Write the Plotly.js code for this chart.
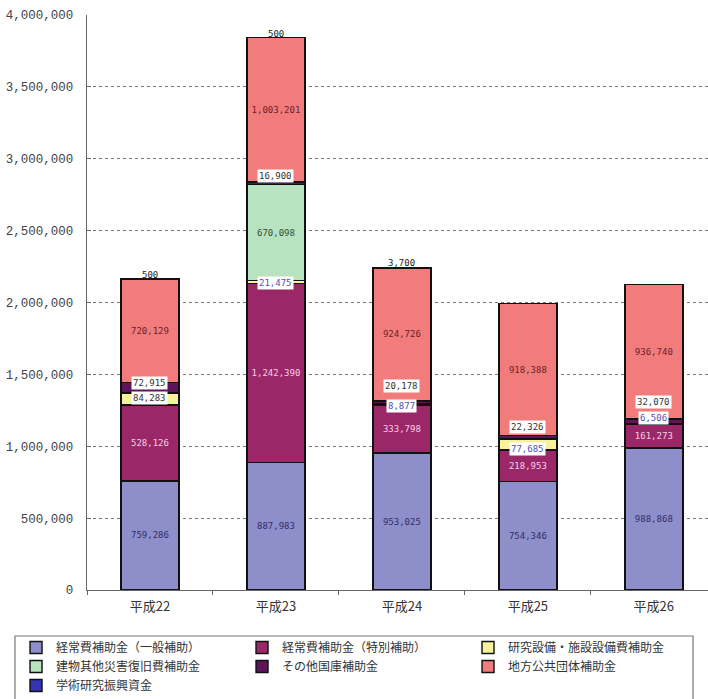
<!DOCTYPE html>
<html><head><meta charset="utf-8">
<script src="https://cdn.plot.ly/plotly-3.0.1.min.js"></script>
<style>html,body{margin:0;padding:0;background:#fff}</style>
</head><body><div id="chart" style="width:708px;height:699px"></div>
<script>
// ---- data ----
const years = ['平成22', '平成23', '平成24', '平成25', '平成26'];
const seriesNames = [
  '経常費補助金（一般補助）', '経常費補助金（特別補助）', '研究設備・施設設備費補助金',
  '建物其他災害復旧費補助金', 'その他国庫補助金', '地方公共団体補助金', '学術研究振興資金'
];
const generalSubsidy   = [759286, 887983, 953025, 754346, 988868];
const specialSubsidy   = [528126, 1242390, 333798, 218953, 161273];
const equipmentSubsidy = [84283, 21475, 8877, 77685, 6506];
const disasterSubsidy  = [null, 670098, null, null, null];
const otherNational    = [72915, 16900, 20178, 22326, 32070];
const localGovernment  = [720129, 1003201, 924726, 918388, 936740];
const academicFund     = [500, 500, 3700, null, null];

// ---- styles ----
const colors = ['#8e8ecb', '#9a2868', '#f7f29b', '#b8e3c0', '#5e1458', '#f27b7b', '#3434b4'];
const textColors = ['#2e2e66', '#f6d0e6', '#333333', '#2f4f3a', '#ffffff', '#6a1f2c', '#222222'];
const showInside = [true, true, false, true, false, true, false];
const eqLabelShift = [1, -1, -2, -4, 6];
const otLabelShift = [5, 7, 16, 10, 19];
const eqLabelColor = ['#333333', '#5050b4', '#5050b4', '#5050b4', '#5050b4'];
const NUMFONT = 'DejaVu Sans Mono, monospace';
const CJK = 'Noto Sans CJK JP, sans-serif';

const values = [generalSubsidy, specialSubsidy, equipmentSubsidy, disasterSubsidy,
                otherNational, localGovernment, academicFund];

const traces = values.map((v, k) => ({
  type: 'bar',
  name: seriesNames[k],
  x: years,
  y: v,
  marker: {color: colors[k], line: {color: '#111', width: 1.4}},
  texttemplate: showInside[k] ? '%{y:,}' : '',
  textposition: showInside[k] ? 'inside' : 'none',
  insidetextanchor: 'middle',
  textangle: 0,
  constraintext: 'none',
  textfont: {family: NUMFONT, size: 9, color: textColors[k]},
  hoverinfo: 'skip'
}));

// annotations for thin segments, computed from the data
const annotations = [];
years.forEach((yr, i) => {
  const base = generalSubsidy[i] + specialSubsidy[i];
  const eqMid = base + equipmentSubsidy[i] / 2;
  const otBase = base + equipmentSubsidy[i] + (disasterSubsidy[i] || 0);
  const otMid = otBase + otherNational[i] / 2;
  const total = otBase + otherNational[i] + localGovernment[i] + (academicFund[i] || 0);
  const fmt = n => n.toLocaleString('en-US');
  annotations.push({x: yr, y: eqMid, yshift: eqLabelShift[i], text: fmt(equipmentSubsidy[i]),
    showarrow: false, bgcolor: '#ffffff', borderpad: 1,
    font: {family: NUMFONT, size: 9, color: eqLabelColor[i]}});
  annotations.push({x: yr, y: otMid, yshift: otLabelShift[i], text: fmt(otherNational[i]),
    showarrow: false, bgcolor: '#ffffff', borderpad: 1,
    font: {family: NUMFONT, size: 9, color: '#333333'}});
  if (academicFund[i]) {
    annotations.push({x: yr, y: total, yanchor: 'bottom', yshift: -3, text: fmt(academicFund[i]),
      showarrow: false, font: {family: NUMFONT, size: 9, color: '#222222'}});
  }
});

const layout = {
  width: 708, height: 699,
  margin: {l: 87, r: 0, t: 15, b: 109, autoexpand: false},
  paper_bgcolor: '#ffffff', plot_bgcolor: '#ffffff',
  barmode: 'stack',
  bargap: 0.54,
  showlegend: true,
  xaxis: {
    type: 'category', range: [-0.5, 4.43],
    showline: true, linecolor: '#666', linewidth: 1.2,
    ticks: 'outside', tickson: 'boundaries', ticklen: 4, tickcolor: '#666',
    ticklabelstandoff: 4,
    tickfont: {family: CJK, size: 13, color: '#333'},
    showgrid: false, zeroline: false, automargin: false
  },
  yaxis: {
    range: [0, 4000000], dtick: 500000, tickformat: ',d',
    showline: true, linecolor: '#666', linewidth: 1.2,
    ticks: 'inside', ticklen: 4, tickcolor: '#666',
    ticklabelstandoff: 10,
    tickfont: {family: 'Liberation Mono, monospace', size: 12.5, color: '#444'},
    showgrid: true, gridcolor: '#7a7a7a', griddash: 'dot', gridwidth: 1,
    zeroline: false, automargin: false
  },
  legend: {
    orientation: 'h', traceorder: 'normal',
    x: -0.1143, xanchor: 'left', y: -0.0748, yanchor: 'top',
    entrywidth: 181, entrywidthmode: 'pixels',
    font: {family: CJK, size: 12, color: '#333'},
    bgcolor: 'rgba(0,0,0,0)', itemwidth: 30
  },
  shapes: [{
    type: 'rect', xref: 'paper', yref: 'paper',
    x0: (15 - 87) / 621, x1: (693 - 87) / 621,
    y0: (590 - 710) / 575, y1: (590 - 636) / 575,
    line: {color: '#777', width: 1.2}, fillcolor: 'rgba(0,0,0,0)'
  }],
  annotations: annotations
};

Plotly.newPlot('chart', traces, layout, {displayModeBar: false, staticPlot: true});
</script>
</body></html>
